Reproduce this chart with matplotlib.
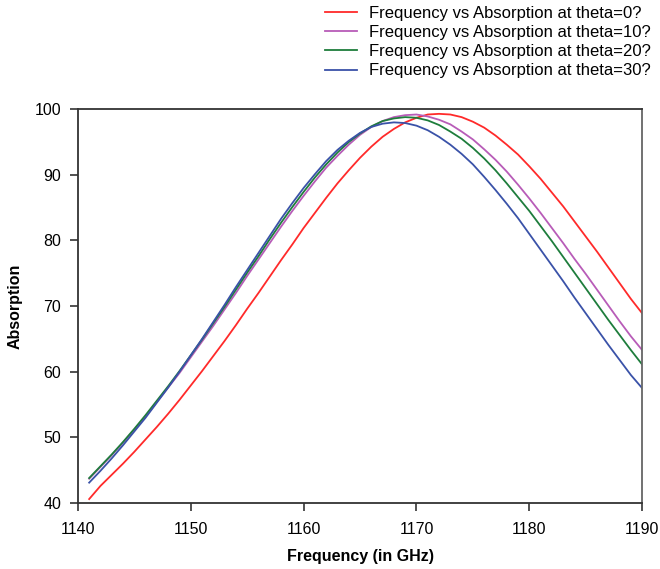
import matplotlib.pyplot as plt
import numpy as np

plt.rcParams['font.family'] = ['Liberation Sans', 'DejaVu Sans']

# frequency axis, 1 GHz steps
freq = np.arange(1141, 1191)

theta0 = [40.6, 42.6, 44.3, 46.0, 47.8, 49.7, 51.6, 53.6, 55.7, 57.9,
          60.1, 62.4, 64.7, 67.1, 69.6, 72.0, 74.5, 77.0, 79.4, 81.9,
          84.2, 86.5, 88.7, 90.7, 92.6, 94.3, 95.8, 97.0, 98.0, 98.7,
          99.2, 99.3, 99.2, 98.8, 98.1, 97.2, 96.0, 94.6, 93.1, 91.3,
          89.4, 87.3, 85.2, 82.9, 80.6, 78.3, 75.9, 73.5, 71.1, 68.9]
theta10 = [43.7, 45.5, 47.3, 49.2, 51.2, 53.2, 55.4, 57.6, 59.8, 62.2,
           64.6, 67.0, 69.5, 72.0, 74.6, 77.1, 79.6, 82.1, 84.5, 86.8,
           89.0, 91.1, 92.9, 94.6, 96.1, 97.3, 98.2, 98.8, 99.1, 99.2,
           98.9, 98.4, 97.7, 96.6, 95.4, 93.9, 92.3, 90.5, 88.5, 86.4,
           84.2, 81.9, 79.6, 77.2, 74.9, 72.5, 70.1, 67.7, 65.4, 63.3]
theta20 = [43.8, 45.6, 47.4, 49.3, 51.3, 53.4, 55.6, 57.8, 60.1, 62.5,
           64.9, 67.4, 69.9, 72.5, 75.1, 77.6, 80.2, 82.7, 85.1, 87.4,
           89.6, 91.6, 93.4, 95.0, 96.3, 97.4, 98.2, 98.6, 98.8, 98.7,
           98.3, 97.6, 96.6, 95.5, 94.1, 92.5, 90.7, 88.7, 86.6, 84.5,
           82.2, 79.9, 77.5, 75.1, 72.7, 70.3, 67.9, 65.6, 63.3, 61.1]
theta30 = [43.1, 44.9, 46.8, 48.8, 50.9, 53.0, 55.3, 57.6, 60.0, 62.5,
           65.0, 67.6, 70.2, 72.9, 75.5, 78.1, 80.7, 83.3, 85.7, 88.0,
           90.1, 92.1, 93.8, 95.2, 96.4, 97.3, 97.8, 98.0, 97.9, 97.5,
           96.8, 95.8, 94.6, 93.2, 91.6, 89.7, 87.7, 85.6, 83.4, 81.0,
           78.6, 76.2, 73.8, 71.3, 68.9, 66.5, 64.1, 61.8, 59.5, 57.5]

series = [
    (theta0, '#ff2a2a', 'Frequency vs Absorption at theta=0?'),
    (theta10, '#b85cb8', 'Frequency vs Absorption at theta=10?'),
    (theta20, '#1e7d3c', 'Frequency vs Absorption at theta=20?'),
    (theta30, '#3a52a8', 'Frequency vs Absorption at theta=30?'),
]

fig = plt.figure(figsize=(6.6, 5.69), dpi=100)
ax = fig.add_axes([0.118, 0.116, 0.855, 0.692])

for vals, color, label in series:
    ax.plot(freq, vals, color=color, lw=1.3, label=label)

ax.set_xlim(1140, 1190)
ax.set_ylim(40, 100)
ax.set_xticks(np.arange(1140, 1191, 10))
ax.set_yticks(np.arange(40, 101, 10))
ax.tick_params(axis='both', direction='out', length=6, width=1.2,
               labelsize=11.5, top=False, right=False, color='#333333')
ax.tick_params(axis='x', pad=8)
ax.tick_params(axis='y', pad=6)
for side in ['left', 'bottom', 'top', 'right']:
    ax.spines[side].set_color('#333333')
    ax.spines[side].set_linewidth(1.3)
ax.spines['right'].set_color('#666666')

ax.set_xlabel('Frequency (in GHz)', fontsize=11.5, fontweight='bold')
ax.set_ylabel('Absorption', fontsize=11.5, fontweight='bold')
ax.xaxis.set_label_coords(0.5, -0.117)
ax.yaxis.set_label_coords(-0.0975, 0.5)

fig.legend(loc='upper left', bbox_to_anchor=(0.4924, 0.9895), frameon=False,
           fontsize=12, handlelength=1.9, handletextpad=0.72, labelspacing=0.25,
           borderpad=0, borderaxespad=0)

fig.savefig('out.png', dpi=100)
